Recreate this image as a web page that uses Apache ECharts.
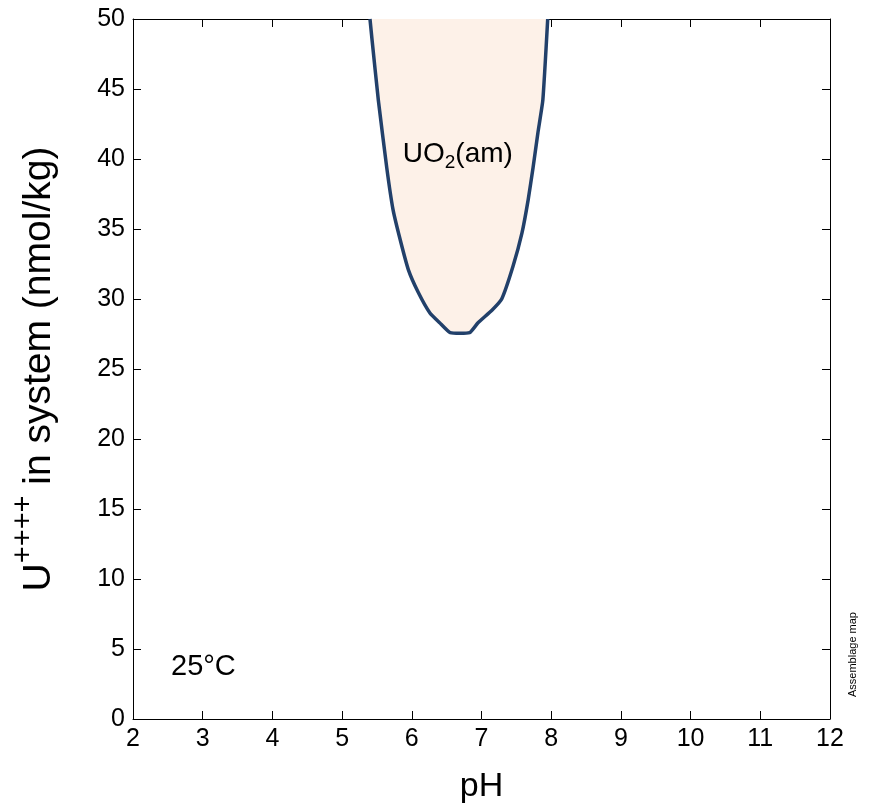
<!DOCTYPE html>
<html>
<head>
<meta charset="utf-8">
<script src="https://cdn.jsdelivr.net/npm/echarts@6/dist/echarts.min.js"></script>
<style>html,body{margin:0;padding:0;background:#fff}#c{width:877px;height:809px}</style>
</head>
<body>
<div id="c"></div>
<script>
// Boundary of the UO2(am) field, traced around (pH, U++++ nmol/kg)
var boundaryPH = [5.40, 5.43, 5.52, 5.64, 5.73, 5.83, 5.95, 6.09, 6.26, 6.40, 6.55, 6.83, 6.95, 7.15, 7.29, 7.45, 7.58, 7.67, 7.74, 7.81, 7.88, 7.95];
var boundaryU  = [50.0, 48.5, 44.2, 39.4, 36.4, 34.3, 32.1, 30.5, 29.0, 28.3, 27.6, 27.6, 28.3, 29.2, 30.0, 32.3, 34.7, 37.1, 39.4, 41.9, 44.2, 50.0];
var xTicks = [2, 3, 4, 5, 6, 7, 8, 9, 10, 11, 12];
var yTicks = [0, 5, 10, 15, 20, 25, 30, 35, 40, 45, 50];
var fieldLabel = {ph: 6.66, u: 40.2};
var tempLabel = {ph: 3.01, u: 3.7};

var FONT = 'Liberation Sans, Arial, sans-serif';
var boundary = boundaryPH.map(function (p, i) { return [p, boundaryU[i]]; });

var chart = echarts.init(document.getElementById('c'), null, {renderer: 'canvas'});
var tick = {show: true, inside: true, length: 8, lineStyle: {color: '#000', width: 1}};
var line = {show: true, onZero: false, lineStyle: {color: '#000', width: 1}};
var tickLabel = {fontSize: 25, color: '#000', fontFamily: FONT, margin: 8};
chart.setOption({
  animation: false,
  backgroundColor: '#fff',
  grid: {left: 133, right: 47, top: 19, bottom: 89, containLabel: false},
  xAxis: [
    {type: 'value', min: xTicks[0], max: xTicks[xTicks.length - 1], interval: 1, position: 'bottom',
     name: 'pH', nameLocation: 'middle', nameGap: 51,
     nameTextStyle: {fontSize: 34, color: '#000', fontFamily: FONT},
     axisLine: line, axisTick: tick, axisLabel: tickLabel, splitLine: {show: false}},
    {type: 'value', min: xTicks[0], max: xTicks[xTicks.length - 1], interval: 1, position: 'top',
     axisLine: line, axisTick: tick, axisLabel: {show: false}, splitLine: {show: false}}
  ],
  yAxis: [
    {type: 'value', position: 'left', min: yTicks[0], max: yTicks[yTicks.length - 1], interval: 5,
     name: '{b|U}{s|++++}{b| in system (nmol/kg)}', nameLocation: 'middle', nameGap: 74, nameRotate: 90,
     nameTextStyle: {color: '#000', fontFamily: FONT, rich: {
       b: {fontSize: 39, color: '#000', fontFamily: FONT, lineHeight: 42, verticalAlign: 'bottom'},
       s: {fontSize: 29, color: '#000', fontFamily: FONT, lineHeight: 31, verticalAlign: 'bottom', padding: [0, 0, 21, 0]}
     }},
     axisLine: line, axisTick: tick, axisLabel: tickLabel, splitLine: {show: false}},
    {type: 'value', position: 'right', min: yTicks[0], max: yTicks[yTicks.length - 1], interval: 5,
     axisLine: line, axisTick: tick, axisLabel: {show: false}, splitLine: {show: false}}
  ],
  graphic: [{
    type: 'text', x: 853, y: 697,
    rotation: Math.PI / 2,
    style: {text: 'Assemblage map', fontSize: 11, fill: '#000', fontFamily: FONT, align: 'left', verticalAlign: 'middle'}
  }],
  series: [
    {
      type: 'custom', xAxisIndex: 0, yAxisIndex: 0, data: [0],
      renderItem: function (params, api) {
        var pts = boundary.map(function (d) { return api.coord(d); });
        var lp = api.coord([fieldLabel.ph, fieldLabel.u]);
        var tp = api.coord([tempLabel.ph, tempLabel.u]);
        return {type: 'group', children: [
          {type: 'polygon', shape: {points: pts}, style: {fill: '#fdf1e8', stroke: null}},
          {type: 'polyline', shape: {points: pts, smooth: 0.15},
            style: {fill: null, stroke: '#22406a', lineWidth: 3.5, lineJoin: 'round', lineCap: 'butt'}},
          {type: 'text', x: lp[0], y: lp[1], z2: 10,
            style: {text: '{n|UO}{sub|2}{n|(am)}', align: 'center', verticalAlign: 'middle', fill: '#000',
              rich: {
                n: {fontSize: 28, fill: '#000', fontFamily: FONT, verticalAlign: 'top', lineHeight: 32},
                sub: {fontSize: 19, fill: '#000', fontFamily: FONT, verticalAlign: 'bottom', lineHeight: 32, padding: [14, 0, 0, 0]}
              }}},
          {type: 'text', x: tp[0], y: tp[1], z2: 10,
            style: {text: '25°C', align: 'center', verticalAlign: 'middle', fill: '#000',
              fontSize: 29, fontFamily: FONT}}
        ]};
      },
      silent: true, z: 2
    }
  ]
});
</script>
</body>
</html>
